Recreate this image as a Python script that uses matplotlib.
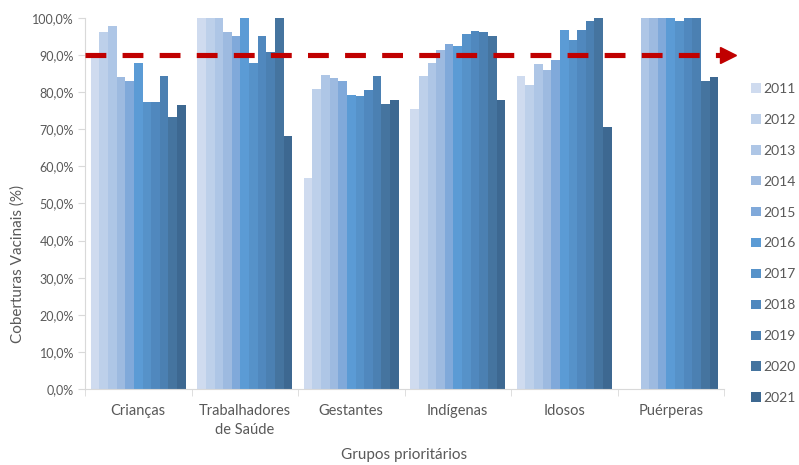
import numpy as np
import matplotlib
matplotlib.use("Agg")
import matplotlib.pyplot as plt
from matplotlib.ticker import FuncFormatter, FixedLocator

plt.rcParams['font.family'] = ['Lato', 'DejaVu Sans']
plt.rcParams['lines.scale_dashes'] = False

# ---------- data ----------
grupos = ["Crianças", "Trabalhadores\nde Saúde", "Gestantes",
          "Indígenas", "Idosos", "Puérperas"]
anos = ["2011", "2012", "2013", "2014", "2015", "2016",
        "2017", "2018", "2019", "2020", "2021"]

# one list per group, values per year 2011..2021 (NaN = no data)
criancas      = [90.4, 96.1, 97.8, 84.0, 82.9, 87.8, 77.4, 77.4, 84.5, 73.3, 76.5]
trabalhadores = [100.0, 100.0, 100.0, 96.3, 95.2, 100.0, 87.8, 95.2, 90.9, 100.0, 68.1]
gestantes     = [56.8, 80.8, 84.7, 83.7, 83.1, 79.2, 79.0, 80.6, 84.3, 76.7, 77.9]
indigenas     = [75.6, 84.3, 88.0, 91.3, 92.9, 92.4, 95.7, 96.6, 96.3, 95.1, 77.9]
idosos        = [84.3, 81.9, 87.6, 86.0, 88.8, 96.9, 94.2, 96.9, 99.2, 99.9, 70.7]
puerperas     = [np.nan, np.nan, 100.0, 100.0, 100.0, 100.0, 99.3, 100.0, 100.0, 83.1, 84.2]

meta = 90.0

cores = ["#CFDBEF", "#BDD0EA", "#AEC6E6", "#9DBAE0", "#80A9DA", "#5B9BD5",
         "#5692C9", "#5088BE", "#4B80B2", "#45749F", "#3D6891"]

tabela = np.array([criancas, trabalhadores, gestantes, indigenas, idosos, puerperas])

cinza = "#595959"

fig = plt.figure(figsize=(7.99, 4.65), dpi=100)
ax = fig.add_axes([85 / 799, 1 - 389 / 465, 639 / 799, 371 / 465])

x = np.arange(len(grupos))
largura = 0.0811
for k, ano in enumerate(anos):
    ax.bar(x + (k - 5) * largura, tabela[:, k], width=largura,
           color=cores[k], label=ano, linewidth=0)

# ---- meta line (dashed red arrow) ----
trans = ax.get_yaxis_transform()
ax.plot([0, 0.997], [meta, meta], transform=trans, color="#C00000",
        lw=3.7, dashes=(15, 11.7), clip_on=False, solid_capstyle='butt',
        dash_capstyle='butt', zorder=5)
ax.plot([1.0055], [meta], transform=trans, marker='>', markersize=11.5,
        color="#C00000", clip_on=False, zorder=5)

# ---- axes ----
ax.set_xlim(-0.5, 5.5)
ax.set_ylim(0, 100)
ax.yaxis.set_major_locator(FixedLocator(np.arange(0, 101, 10)))
ax.yaxis.set_major_formatter(FuncFormatter(lambda v, p: f"{v:.1f}%".replace(".", ",")))
ax.set_xticks(x)
ax.set_xticklabels(grupos, linespacing=1.45)
ax.set_xticks(np.arange(-0.5, 6, 1), minor=True)
ax.tick_params(axis='x', which='major', length=0, pad=11, labelsize=10.5, labelcolor=cinza)
ax.tick_params(axis='x', which='minor', length=5, color="#D9D9D9", direction='out')
ax.tick_params(axis='y', length=5, color="#D9D9D9", labelsize=9, labelcolor=cinza, pad=3)

for s in ['top', 'right']:
    ax.spines[s].set_visible(False)
for s in ['left', 'bottom']:
    ax.spines[s].set_color("#D9D9D9")

ax.set_ylabel("Coberturas Vacinais (%)", fontsize=11, color=cinza)
ax.yaxis.set_label_coords(-0.094, 0.337)
fig.text(404 / 799, 1 - 455 / 465, "Grupos prioritários", fontsize=11,
         color=cinza, ha='center', va='center')

fig.legend(loc='upper left', bbox_to_anchor=(751 / 799, 1 - 83 / 465),
           frameon=False, fontsize=10, handlelength=0.72, handleheight=0.65,
           handletextpad=0.2, labelspacing=1.36, borderpad=0,
           borderaxespad=0, labelcolor=cinza)

fig.savefig("out.png", dpi=100)
